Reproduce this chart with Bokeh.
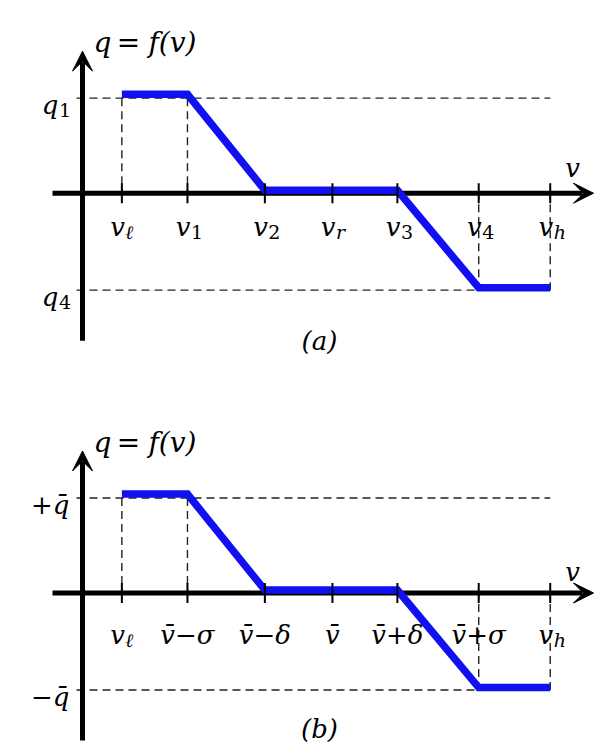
from bokeh.plotting import figure
from bokeh.layouts import column
from bokeh.models import Range1d, Arrow, VeeHead
from bokeh.core.properties import value
from bokeh.embed import file_html
from bokeh.resources import INLINE

# ---------------- data ----------------
V_POS = [0.60, 1.60, 2.78, 3.81, 4.80, 6.04, 7.13]     # v_l, v1, v2, v_r, v3, v4, v_h
Q_TOP = 0.99
Q_BOT = -1.01
CURVE_V = [0.60, 1.60, 2.78, 4.80, 6.04, 7.13]
CURVE_Q = [1.03, 1.03, 0.03, 0.03, -0.985, -0.985]

TICK_MAIN_A = ["v", "v", "v", "v", "v", "v", "v"]
TICK_SUB_A = ["ℓ", "1", "2", "r", "3", "4", "h"]
TICK_MAIN_B = ["v", "v\u0304\u2212σ", "v\u0304\u2212δ", "v\u0304", "v\u0304+δ", "v\u0304+σ", "v"]
TICK_SUB_B = ["ℓ", "", "", "", "", "", "h"]
QLAB_MAIN_A = ["q", "q"]
QLAB_SUB_A = ["1", "4"]
QLAB_MAIN_B = ["+q\u0304", "\u2212q\u0304"]
QLAB_SUB_B = ["", ""]
Y_TITLE = ["q", "=", "f(v)"]
X_TITLE = "v"
PANEL_TAGS = ["(a)", "(b)"]

# ---------------- geometry (px per unit) ----------------
XS = 65.6
YS = 96.0
W = 595
FONT = "DejaVu Serif"
BLUE = "#1010F0"


def txt(p, x, y, s, size, align="center", italic=True):
    p.text(x=[x], y=[y], text=[s], text_font=value(FONT), text_font_size=f"{size}px",
           text_font_style="italic" if italic else "normal", text_align=align,
           text_baseline="alphabetic", text_color="black")


def panel(height, y_top, tick_main, tick_sub, q_main, q_sub, tag, lab_drop, tag_drop,
          vlab_rise):
    x0 = 82.0
    p = figure(width=W, height=height, toolbar_location=None, output_backend="svg",
               x_range=Range1d(-x0 / XS, (W - x0) / XS),
               y_range=Range1d(-(height - y_top) / YS, y_top / YS),
               x_axis_location=None, y_axis_location=None, min_border=0,
               outline_line_color=None)
    p.xgrid.visible = False
    p.ygrid.visible = False

    vl, v1, v2, vr, v3, v4, vh = V_POS
    dash = dict(line_color="#222222", line_width=1.4, line_dash="8 5")
    # dashed guides
    p.segment(x0=[-6 / XS, -6 / XS], y0=[Q_TOP, Q_BOT], x1=[vh, v4], y1=[Q_TOP, Q_BOT], **dash)
    p.segment(x0=[vl, v1, v4, vh], y0=[Q_TOP, Q_TOP, Q_BOT, Q_BOT],
              x1=[vl, v1, v4, vh], y1=[0, 0, 0, 0], **dash)

    # axes
    tipx = 511.0
    tipy = 142.0
    p.segment(x0=[-30 / XS], y0=[0], x1=[(tipx - 11) / XS], y1=[0], line_color="black", line_width=5)
    p.segment(x0=[0], y0=[-147.5 / YS], x1=[0], y1=[(tipy - 11) / YS], line_color="black", line_width=5)
    p.add_layout(Arrow(end=VeeHead(size=20, fill_color="black", line_color="black", line_width=1),
                       x_start=(tipx - 20) / XS, y_start=0, x_end=tipx / XS, y_end=0, line_alpha=0))
    p.add_layout(Arrow(end=VeeHead(size=20, fill_color="black", line_color="black", line_width=1),
                       x_start=0, y_start=(tipy - 20) / YS, x_end=0, y_end=tipy / YS, line_alpha=0))

    # curve
    p.line(CURVE_V, CURVE_Q, line_color=BLUE, line_width=7.5, line_join="miter")

    # ticks
    p.segment(x0=V_POS, y0=[-10 / YS] * 7, x1=V_POS, y1=[10 / YS] * 7, line_color="black", line_width=2)

    # tick labels
    yb = -lab_drop / YS
    for xv, m, s in zip(V_POS, tick_main, tick_sub):
        if s:
            join = xv + 3 / XS
            txt(p, join, yb, m, 26, align="right")
            txt(p, join + 0.5 / XS, yb - 5 / YS, s, 19, align="left", italic=not s.isdigit())
        else:
            txt(p, xv, yb, m, 26, align="center")

    # q labels
    for qv, m, s in zip([Q_TOP, Q_BOT], q_main, q_sub):
        yq = qv - 7 / YS
        if s:
            txt(p, -24 / XS, yq, m, 26, align="right")
            txt(p, -23.5 / XS, yq - 5 / YS, s, 19, align="left", italic=not s.isdigit())
        else:
            txt(p, -13 / XS, yq, m, 26, align="right")

    # axis titles
    yt = 151 / YS
    txt(p, 11 / XS, yt, Y_TITLE[0], 28, align="left")
    txt(p, 46 / XS, yt, Y_TITLE[1], 28, align="center", italic=False)
    txt(p, 66 / XS, yt, Y_TITLE[2], 28, align="left")
    txt(p, 490 / XS, vlab_rise / YS, X_TITLE, 26, align="center")

    # panel tag
    txt(p, 237 / XS, -tag_drop / YS, tag, 26, align="center")
    return p


pa = panel(392, 192.7, TICK_MAIN_A, TICK_SUB_A, QLAB_MAIN_A, QLAB_SUB_A, PANEL_TAGS[0],
           lab_drop=34, tag_drop=148, vlab_rise=25)
pb = panel(351, 200.5, TICK_MAIN_B, TICK_SUB_B, QLAB_MAIN_B, QLAB_SUB_B, PANEL_TAGS[1],
           lab_drop=42, tag_drop=136, vlab_rise=21)

layout = column(pa, pb, spacing=0)
open("out.html", "w").write(file_html(layout, INLINE))
